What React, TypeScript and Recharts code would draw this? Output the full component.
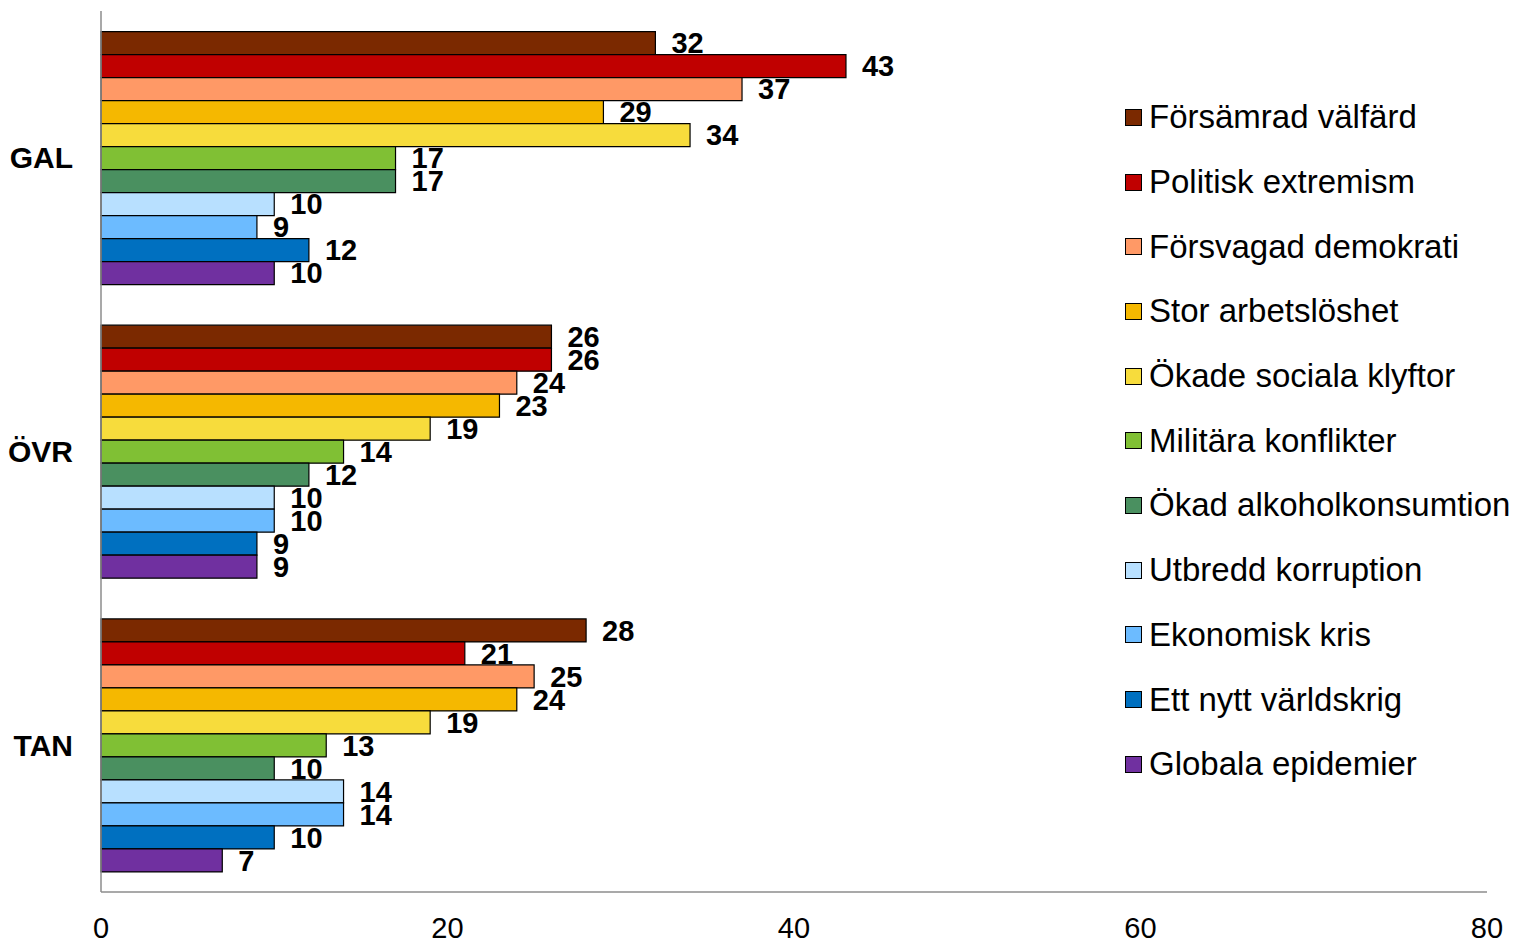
import React from "react";
import { BarChart, Bar, XAxis, YAxis, Legend, LabelList } from "recharts";

const categories = ["GAL", "ÖVR", "TAN"];

const seriesNames = [
  "Försämrad välfärd",
  "Politisk extremism",
  "Försvagad demokrati",
  "Stor arbetslöshet",
  "Ökade sociala klyftor",
  "Militära konflikter",
  "Ökad alkoholkonsumtion",
  "Utbredd korruption",
  "Ekonomisk kris",
  "Ett nytt världskrig",
  "Globala epidemier",
];

const seriesColors = [
  "#7B2900",
  "#C00000",
  "#FF9966",
  "#F5B800",
  "#F7DC3C",
  "#80C034",
  "#4A9060",
  "#B8E0FF",
  "#6CBBFF",
  "#0070C0",
  "#7030A0",
];

// one array per category, in series order
const galValues = [32, 43, 37, 29, 34, 17, 17, 10, 9, 12, 10];
const ovrValues = [26, 26, 24, 23, 19, 14, 12, 10, 10, 9, 9];
const tanValues = [28, 21, 25, 24, 19, 13, 10, 14, 14, 10, 7];

const xTicks = [0, 20, 40, 60, 80];

const valuesByCategory = [galValues, ovrValues, tanValues];

const chartData = categories.map((cat, i) => {
  const row: Record<string, string | number> = { name: cat };
  seriesNames.forEach((s, j) => {
    row[s] = valuesByCategory[i][j];
  });
  return row;
});

const FONT = "'Liberation Sans', Arial, sans-serif";

function LegendBox() {
  return (
    <div style={{ fontFamily: FONT }}>
      {seriesNames.map((s, i) => (
        <div key={s} style={{ height: 64.7, display: "flex", alignItems: "center" }}>
          <span
            style={{
              display: "inline-block",
              width: 15,
              height: 15,
              background: seriesColors[i],
              border: "1px solid #000",
              marginRight: 7,
            }}
          />
          <span style={{ fontSize: 33, color: "#000", whiteSpace: "nowrap" }}>{s}</span>
        </div>
      ))}
    </div>
  );
}

export default function App() {
  return (
    <div style={{ position: "absolute", left: 0, top: 0, width: 1518, height: 943, background: "#fff" }}>
      <BarChart
        width={1518}
        height={943}
        data={chartData}
        layout="vertical"
        margin={{ top: 11, right: 31, bottom: 0, left: 0 }}
        barCategoryGap="7%"
        barGap={0}
      >
        <XAxis
          type="number"
          domain={[0, 80]}
          ticks={xTicks}
          height={51}
          tickLine={false}
          tickSize={0}
          tickMargin={25}
          axisLine={{ stroke: "#8c8c8c", strokeWidth: 1.5 }}
          tick={{ fill: "#000", fontSize: 29, fontFamily: FONT }}
        />
        <YAxis
          type="category"
          dataKey="name"
          width={101}
          tickLine={false}
          tickSize={0}
          tickMargin={28}
          axisLine={{ stroke: "#8c8c8c", strokeWidth: 1.5 }}
          tick={{ fill: "#000", fontSize: 30, fontWeight: "bold", fontFamily: FONT }}
        />
        <Legend
          layout="horizontal"
          align="center"
          verticalAlign="middle"
          content={() => <LegendBox />}
          wrapperStyle={{ left: 1125, top: 85, width: 400, height: 712 }}
        />
        {seriesNames.map((s, i) => (
          <Bar
            key={s}
            dataKey={s}
            fill={seriesColors[i]}
            stroke="#000"
            strokeWidth={1.2}
            isAnimationActive={false}
          >
            <LabelList
              dataKey={s}
              position="right"
              offset={16}
              fill="#000"
              fontSize={29}
              fontWeight="bold"
              fontFamily={FONT}
            />
          </Bar>
        ))}
      </BarChart>
    </div>
  );
}
